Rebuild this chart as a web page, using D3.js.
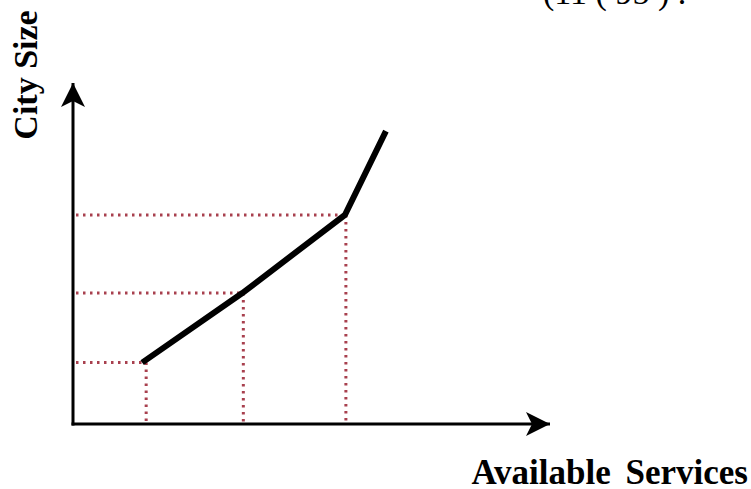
<!DOCTYPE html>
<html lang="en">
<head>
    <meta charset="UTF-8">
    <title>City Size vs Available Services</title>
    <script src="https://d3js.org/d3.v7.min.js"></script>
    <style>
        body { margin: 0; background: #fff; }
        .axis-line {
            fill: none;
            stroke: #000;
            stroke-width: 3;
        }
        .curve {
            fill: none;
            stroke: #000;
            stroke-width: 6;
            stroke-linejoin: miter;
        }
        .guide {
            fill: none;
            stroke: #a8404e;
            stroke-width: 3;
            stroke-dasharray: 2.5,4.5;
        }
        .label {
            font-family: 'Liberation Serif', 'Times New Roman', serif;
            font-weight: bold;
            fill: #000;
        }
    </style>
</head>
<body>
    <svg width="751" height="489"></svg>

    <script>
        // curve points: available services (x) vs city size (y), arbitrary units
        const services = [14.5, 35.5, 57.0, 65.6];
        const citySize = [18.0, 38.4, 61.3, 85.9];
        // points marked with dotted guide lines
        const guideIdx = [0, 1, 2];

        const xLabel = "Available Services";
        const yLabel = "City Size";
        const topNote = "(11 ( 95 ) .";

        const svg = d3.select("svg");

        const x = d3.scaleLinear().domain([0, 100]).range([73, 550]),
            y = d3.scaleLinear().domain([0, 100]).range([424, 83]);

        const pts = services.map((s, i) => ({s: s, c: citySize[i]}));

        // arrow head marker
        const defs = svg.append("defs");
        defs.append("marker")
            .attr("id", "arrow")
            .attr("viewBox", "0 0 24 24")
            .attr("refX", 24)
            .attr("refY", 12)
            .attr("markerWidth", 24)
            .attr("markerHeight", 24)
            .attr("markerUnits", "userSpaceOnUse")
            .attr("orient", "auto")
            .append("path")
            .attr("d", "M0,0 L24,12 L0,24 L6,12 Z")
            .attr("fill", "#000");

        // dotted guides
        guideIdx.forEach(function (i) {
            const p = pts[i];
            const vx = x(p.s) + (i === 0 ? 4 : 1);
            svg.append("path")
                .attr("class", "guide")
                .attr("d", d3.line()([[x(0) + 3, y(p.c)], [x(p.s), y(p.c)]]));
            svg.append("path")
                .attr("class", "guide")
                .attr("d", d3.line()([[vx, y(p.c)], [vx, y(0) - 1]]));
        });

        // axes
        svg.append("path")
            .attr("class", "axis-line")
            .attr("marker-end", "url(#arrow)")
            .attr("d", d3.line()([[x(0), y(0) + 1.5], [x(0), y(100)]]));
        svg.append("path")
            .attr("class", "axis-line")
            .attr("marker-end", "url(#arrow)")
            .attr("d", d3.line()([[x(0) - 1.5, y(0)], [x(100), y(0)]]));

        // curve
        svg.append("path")
            .datum(pts)
            .attr("class", "curve")
            .attr("d", d3.line().x(d => x(d.s)).y(d => y(d.c)));

        // labels
        svg.append("text")
            .attr("class", "label")
            .attr("font-size", 34)
            .attr("text-anchor", "middle")
            .attr("transform", "translate(37,75) rotate(-90)")
            .text(yLabel);

        svg.append("text")
            .attr("class", "label")
            .attr("font-size", 35)
            .attr("word-spacing", 6)
            .attr("text-anchor", "end")
            .attr("x", 748)
            .attr("y", 484)
            .text(xLabel);

        svg.append("text")
            .attr("font-family", "'Liberation Serif', serif")
            .attr("font-size", 34)
            .attr("x", 543)
            .attr("y", 4)
            .text(topNote);
    </script>
</body>
</html>
